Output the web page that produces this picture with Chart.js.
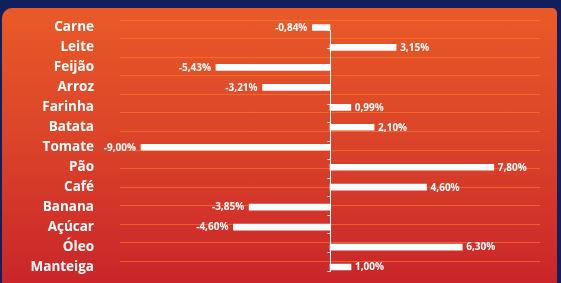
<!DOCTYPE html>
<html>
<head>
<meta charset="utf-8">
<script src="https://cdn.jsdelivr.net/npm/chart.js@4"></script>
<style>
  html, body { margin: 0; padding: 0; }
  body { width: 561px; height: 283px; background: #11205c; overflow: hidden; position: relative; }
  .panel {
    position: absolute; left: 2px; top: 8px; width: 555px; height: 290px;
    border-radius: 10px 5px 0 0;
    background: linear-gradient(180deg, #e95a28 0%, #db4429 45%, #c8222a 100%);
  }
  .wrap { position: absolute; left: 0; top: 0; width: 561px; height: 283px; }
</style>
</head>
<body>
<div class="panel"></div>
<div class="wrap"><canvas id="chart" width="561" height="283"></canvas></div>
<script>
// dados: variação de preço por produto (%)
const categories = ['Carne', 'Leite', 'Feijão', 'Arroz', 'Farinha', 'Batata', 'Tomate', 'Pão', 'Café', 'Banana', 'Açúcar', 'Óleo', 'Manteiga'];
const variation = [-0.84, 3.15, -5.43, -3.21, 0.99, 2.10, -9.00, 7.80, 4.60, -3.85, -4.60, 6.30, 1.00];
const xMin = -10;
const xMax = 10;

const gridColor = 'rgba(255, 125, 45, 0.6)';
const labelFont = "'Open Sans', sans-serif";

// linhas de grade deslocadas um pouco acima do meio entre barras
const gridShift = 0.35;

const valueLabels = {
  id: 'valueLabels',
  afterDatasetsDraw(chart) {
    const ctx = chart.ctx;
    const meta = chart.getDatasetMeta(0);
    ctx.save();
    ctx.font = 'bold 10px ' + labelFont;
    ctx.fillStyle = '#ffffff';
    ctx.textBaseline = 'middle';
    meta.data.forEach((bar, i) => {
      const v = variation[i];
      const txt = v.toFixed(2).replace('.', ',') + '%';
      if (v < 0) {
        ctx.textAlign = 'right';
        ctx.fillText(txt, bar.x - 5, bar.y + 0.5);
      } else {
        ctx.textAlign = 'left';
        ctx.fillText(txt, bar.x + 4, bar.y + 0.5);
      }
    });
    ctx.restore();
  }
};

const zeroAxis = {
  id: 'zeroAxis',
  afterDatasetsDraw(chart) {
    const ctx = chart.ctx;
    const x0 = Math.round(chart.scales.x.getPixelForValue(0)) + 0.5;
    const g = chart.scales.yg;
    const ys = g.ticks.map(t => Math.round(g.getPixelForValue(t.value)) + 0.5);
    ctx.save();
    ctx.strokeStyle = '#ffffff';
    ctx.lineWidth = 1;
    ctx.beginPath();
    ctx.moveTo(x0, ys[0]);
    ctx.lineTo(x0, ys[ys.length - 1]);
    ys.forEach(y => {
      ctx.moveTo(x0 - 3, y);
      ctx.lineTo(x0, y);
    });
    ctx.stroke();
    ctx.restore();
  }
};

const ctx = document.getElementById('chart');

new Chart(ctx.getContext('2d'), {
  type: 'bar',
  data: {
    labels: categories,
    datasets: [{
      data: variation,
      backgroundColor: '#ffffff',
      borderWidth: 0,
      barThickness: 6
    }]
  },
  options: {
    indexAxis: 'y',
    responsive: false,
    animation: false,
    layout: {
      padding: { left: 0, right: 21, top: 17.5, bottom: 6 }
    },
    plugins: {
      legend: { display: false },
      tooltip: { enabled: false }
    },
    scales: {
      x: {
        type: 'linear',
        min: xMin,
        max: xMax,
        display: false
      },
      y: {
        type: 'category',
        position: 'left',
        grid: { display: false, drawTicks: false },
        border: { display: false },
        ticks: {
          color: '#ffffff',
          padding: 26,
          font: { size: 13.5, weight: 'bold', family: labelFont }
        },
        afterFit: scale => {
          scale.width = 120;
          scale.paddingTop = 0;
          scale.paddingBottom = 0;
        }
      },
      yg: {
        type: 'linear',
        position: 'right',
        reverse: true,
        min: -0.5,
        max: categories.length - 0.5,
        ticks: { display: false },
        border: { display: false },
        grid: { color: gridColor, lineWidth: 1, drawTicks: false },
        afterBuildTicks: scale => {
          const t = categories.map((_, i) => ({ value: i - gridShift }));
          t.push({ value: categories.length - gridShift });
          scale.ticks = t;
        }
      }
    }
  },
  plugins: [zeroAxis, valueLabels]
});
</script>
</body>
</html>
